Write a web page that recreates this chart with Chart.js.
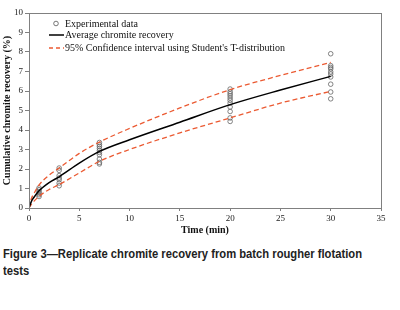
<!DOCTYPE html>
<html>
<head>
<meta charset="utf-8">
<script src="https://cdn.jsdelivr.net/npm/chart.js@4"></script>
<style>
  html, body { margin: 0; padding: 0; background: #fff; }
  #wrap { position: relative; width: 400px; height: 310px; overflow: hidden; }
  #c { position: absolute; left: 0; top: 0; }
  .cap { position: absolute; left: 3px; font-family: "Liberation Sans", Arial, sans-serif; font-weight: bold; font-size: 12.5px; color: #222; white-space: nowrap; transform-origin: 0 0; }
</style>
</head>
<body>
<div id="wrap">
  <canvas id="c" width="400" height="240"></canvas>
  <div class="cap" id="cap1" style="top:247px">Figure 3—Replicate chromite recovery from batch rougher flotation</div>
  <div class="cap" id="cap2" style="top:264px">tests</div>
</div>
<script>
// Experimental replicate data
const obsTimes = [1, 3, 7, 20, 30];
const obsT1 = [1.03, 0.94, 0.85, 0.77, 0.68, 0.59];
const obsT3 = [2.05, 1.93, 1.66, 1.54, 1.45, 1.28, 1.14];
const obsT7 = [3.36, 3.25, 3.16, 3.06, 2.95, 2.85, 2.73, 2.51, 2.34, 2.26];
const obsT20 = [6.10, 5.96, 5.86, 5.76, 5.64, 5.52, 5.38, 5.18, 4.95, 4.62, 4.44];
const obsT30 = [7.91, 7.30, 7.21, 7.13, 6.98, 6.87, 6.72, 6.35, 5.95, 5.60];

// Fitted curves
const fitTime  = [0, 0.25, 0.5, 1, 2, 3, 5, 7, 10, 15, 20, 25, 30];
const avgRec   = [0, 0.35, 0.55, 0.88, 1.30, 1.60, 2.30, 2.90, 3.50, 4.40, 5.30, 6.05, 6.75];
const upperCI  = [0, 0.50, 0.75, 1.18, 1.68, 2.05, 2.80, 3.38, 4.08, 5.13, 6.07, 6.80, 7.47];
const lowerCI  = [0, 0.20, 0.35, 0.60, 0.95, 1.20, 1.80, 2.39, 3.00, 3.85, 4.62, 5.38, 5.98];

const xTicks = [0, 5, 10, 15, 20, 25, 30, 35];
const yTicks = [0, 1, 2, 3, 4, 5, 6, 7, 8, 9, 10];

const labels = {
  obs: 'Experimental data',
  avg: 'Average chromite recovery',
  ci: "95% Confidence interval using Student's T-distribution",
  x: 'Time (min)',
  y: 'Cumulative chromite recovery (%)'
};

const obsGroups = [obsT1, obsT3, obsT7, obsT20, obsT30];
const obsPoints = [];
obsGroups.forEach((g, i) => g.forEach(v => obsPoints.push({x: obsTimes[i], y: v})));
const toXY = (arr) => arr.map((v, i) => ({x: fitTime[i], y: v}));

const RED = '#EB5A32';
const SERIF = '"Liberation Serif", "Times New Roman", serif';

const boxPlugin = {
  id: 'box',
  afterDraw(chart) {
    const {ctx, chartArea: a} = chart;
    ctx.save();
    ctx.strokeStyle = '#808080';
    ctx.lineWidth = 1;
    ctx.strokeRect(Math.round(a.left) + 0.5, Math.round(a.top) + 0.5, Math.round(a.right - a.left), Math.round(a.bottom - a.top));
    // legend
    ctx.font = '10px ' + SERIF;
    ctx.fillStyle = '#111';
    ctx.textBaseline = 'middle';
    const tx = 65;
    // row 1: circle
    ctx.beginPath();
    ctx.arc(56, 23.5, 2.3, 0, Math.PI * 2);
    ctx.strokeStyle = '#555';
    ctx.lineWidth = 0.8;
    ctx.stroke();
    ctx.fillText(chart.data.datasets[0].label, tx, 24);
    // row 2: solid line
    ctx.beginPath();
    ctx.moveTo(49, 35); ctx.lineTo(64, 35);
    ctx.strokeStyle = '#000';
    ctx.lineWidth = 1.5;
    ctx.stroke();
    ctx.fillText(chart.data.datasets[1].label, tx, 35.5);
    // row 3: dashed line
    ctx.beginPath();
    ctx.setLineDash([4, 3]);
    ctx.moveTo(49, 48); ctx.lineTo(64, 48);
    ctx.strokeStyle = RED;
    ctx.lineWidth = 1.3;
    ctx.stroke();
    ctx.setLineDash([]);
    ctx.fillText(chart.data.datasets[2].label, tx, 48.5);
    ctx.restore();
  }
};

new Chart(document.getElementById('c'), {
  type: 'scatter',
  data: {
    datasets: [
      { label: labels.obs, data: obsPoints, showLine: false, pointRadius: 2.3, pointBorderColor: '#666', pointBackgroundColor: 'rgba(0,0,0,0)', pointBorderWidth: 0.8, order: 4 },
      { label: labels.avg, data: toXY(avgRec), showLine: true, borderColor: '#000', borderWidth: 1.5, pointRadius: 0, cubicInterpolationMode: 'monotone', order: 1 },
      { label: labels.ci, data: toXY(upperCI), showLine: true, borderColor: RED, borderWidth: 1.3, borderDash: [5, 3], pointRadius: 0, cubicInterpolationMode: 'monotone', order: 2 },
      { label: labels.ci, data: toXY(lowerCI), showLine: true, borderColor: RED, borderWidth: 1.3, borderDash: [5, 3], pointRadius: 0, cubicInterpolationMode: 'monotone', order: 3 }
    ]
  },
  options: {
    responsive: false,
    animation: false,
    layout: { padding: { left: 0, top: 13, right: 19, bottom: 0 } },
    plugins: { legend: { display: false }, tooltip: { enabled: false } },
    scales: {
      x: {
        type: 'linear', min: 0, max: 35,
        afterBuildTicks: (s) => { s.ticks = xTicks.map(v => ({value: v})); },
        afterFit: (s) => { s.height = 32; },
        grid: { drawOnChartArea: false, drawTicks: true, tickLength: 3, color: '#808080' },
        border: { display: true, color: '#808080' },
        ticks: { font: { family: SERIF, size: 9 }, color: '#222', padding: 2, maxRotation: 0 },
        title: { display: true, text: labels.x, font: { family: SERIF, size: 10, weight: 'bold' }, color: '#111', padding: { top: 0, bottom: 4 } }
      },
      y: {
        type: 'linear', min: 0, max: 10,
        afterBuildTicks: (s) => { s.ticks = yTicks.map(v => ({value: v})); },
        afterFit: (s) => { s.width = 29; },
        grid: { drawOnChartArea: false, drawTicks: true, tickLength: 4, color: '#808080' },
        border: { display: true, color: '#808080' },
        ticks: { font: { family: SERIF, size: 9 }, color: '#222', padding: 2 },
        title: { display: true, text: labels.y, font: { family: SERIF, size: 10, weight: 'bold' }, color: '#111', padding: { top: 1, bottom: 0 } }
      }
    }
  },
  plugins: [boxPlugin]
});

// fit caption width (condensed face in original)
const c1 = document.getElementById('cap1');
const c2 = document.getElementById('cap2');
const w = c1.getBoundingClientRect().width;
const k = 359 / w;
c1.style.transform = 'scaleX(' + k + ')';
c2.style.transform = 'scaleX(' + k + ')';
</script>
</body>
</html>
